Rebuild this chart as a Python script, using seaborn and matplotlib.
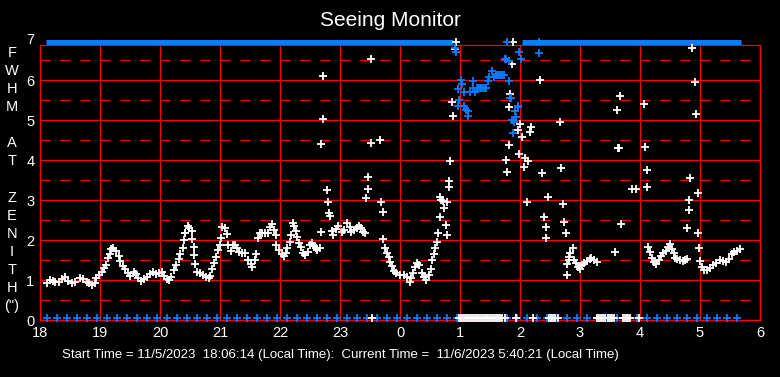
import matplotlib
matplotlib.use('Agg')
import matplotlib.pyplot as plt
from matplotlib import font_manager
import seaborn as sns

# x axis = hours after 18:00 local time
hour_ticks = [0, 1, 2, 3, 4, 5, 6, 7, 8, 9, 10, 11, 12]
hour_labels = ['18', '19', '20', '21', '22', '23', '0', '1', '2', '3', '4', '5', '6']
fwhm_ticks = [0, 1, 2, 3, 4, 5, 6]
fwhm_half = [0.5, 1.5, 2.5, 3.5, 4.5, 5.5, 6.5]

# white seeing samples (hours after 18:00, FWHM arcsec)
white_t = [0.12, 0.17, 0.21, 0.25, 0.31, 0.36, 0.42, 0.47, 0.53, 0.58, 0.66, 0.72, 0.78, 0.82, 0.86,
           0.91, 0.94, 0.99, 1.03, 1.07, 1.10, 1.14, 1.17, 1.19, 1.22, 1.27, 1.31, 1.34, 1.38, 1.42,
           1.46, 1.50, 1.56, 1.60, 1.64, 1.68, 1.73, 1.79, 1.84, 1.89, 1.94, 1.99, 2.03, 2.07, 2.11,
           2.15, 2.19, 2.23, 2.27, 2.31, 2.33, 2.38, 2.40, 2.41, 2.42, 2.46, 2.49, 2.53, 2.54, 2.56,
           2.57, 2.59, 2.62, 2.67, 2.71, 2.76, 2.81, 2.84, 2.87, 2.90, 2.93, 2.97, 3.00, 3.02, 3.04,
           3.08, 3.11, 3.14, 3.18, 3.22, 3.25, 3.28, 3.31, 3.36, 3.42, 3.47, 3.51, 3.54, 3.58, 3.60,
           3.64, 3.67, 3.70, 3.75, 3.80, 3.83, 3.86, 3.90, 3.93, 3.94, 3.99, 4.03, 4.07, 4.10, 4.12,
           4.16, 4.18, 4.21, 4.24, 4.26, 4.28, 4.32, 4.35, 4.39, 4.42, 4.46, 4.50, 4.53, 4.57, 4.60,
           4.62, 4.66, 4.68, 4.69, 4.71, 4.72, 4.78, 4.80, 4.82, 4.84, 4.86, 4.89, 4.93, 4.97, 5.03,
           5.07, 5.11, 5.16, 5.19, 5.23, 5.28, 5.32, 5.35, 5.38, 5.42, 5.43, 5.46, 5.47, 5.51, 5.52,
           5.67, 5.69, 5.71, 5.72, 5.75, 5.78, 5.81, 5.83, 5.87, 5.90, 5.94, 6.00, 6.06, 6.11, 6.16,
           6.19, 6.22, 6.25, 6.29, 6.32, 6.36, 6.40, 6.44, 6.48, 6.52, 6.54, 6.57, 6.59, 6.61, 6.64,
           6.66, 6.67, 6.69, 6.72, 6.74, 6.76, 6.78, 6.79, 6.81, 6.82, 6.84, 6.87, 6.89, 6.92, 6.94,
           7.77, 7.78, 7.81, 7.82, 7.84, 7.86, 7.89, 7.96, 7.99, 8.00, 8.03, 8.07, 8.09, 8.11, 8.13,
           8.16, 8.18, 8.34, 8.36, 8.40, 8.43, 8.44, 8.46, 8.67, 8.69, 8.71, 8.74, 8.76, 8.79,
           8.78, 8.81, 8.82, 8.84, 8.88, 8.90, 8.93, 8.97, 9.00, 9.03, 9.07, 9.11, 9.16, 9.19, 9.23, 9.28,
           9.59, 9.61, 9.63, 9.65, 9.67, 9.69, 9.86, 9.93, 10.06, 10.09, 10.11, 10.12,
           10.14, 10.17, 10.20, 10.23, 10.27, 10.31, 10.35, 10.39, 10.43, 10.47, 10.50, 10.53, 10.56,
           10.58, 10.62, 10.67, 10.71, 10.75, 10.78,
           10.79, 10.81, 10.82, 10.84, 10.86, 10.91, 10.94, 10.96, 10.97, 10.99,
           11.00, 11.03, 11.07, 11.11, 11.16, 11.21, 11.27, 11.33, 11.39, 11.44, 11.49, 11.53, 11.57,
           11.61, 11.66]
white_v = [0.92, 1.00, 0.97, 0.96, 0.94, 1.02, 1.07, 0.98, 0.93, 0.96, 1.06, 1.03, 0.96, 0.92, 0.88,
           0.92, 1.04, 1.12, 1.21, 1.29, 1.38, 1.54, 1.64, 1.77, 1.79, 1.73, 1.61, 1.48, 1.36, 1.28,
           1.17, 1.11, 1.21, 1.14, 1.04, 0.98, 1.03, 1.08, 1.14, 1.21, 1.14, 1.17, 1.19, 1.11, 1.03,
           0.99, 1.08, 1.25, 1.38, 1.53, 1.64, 1.79, 2.00, 2.17, 2.18, 2.36, 2.31, 2.23, 2.02, 1.82,
           1.62, 1.39, 1.21, 1.17, 1.13, 1.08, 1.04, 1.11, 1.27, 1.42, 1.58, 1.75, 1.88, 2.04, 2.33,
           2.29, 2.14, 1.87, 1.73, 1.87, 1.88, 1.79, 1.71, 1.68, 1.67, 1.50, 1.40, 1.32, 1.50, 1.64,
           2.04, 2.18, 2.17, 2.17, 2.17, 2.33, 2.40, 2.25, 2.13, 1.88, 1.75, 1.65, 1.60, 1.67, 1.79,
           1.96, 2.13, 2.42, 2.35, 2.23, 2.08, 1.93, 1.83, 1.67, 1.63, 1.71, 1.88, 1.93, 1.85, 1.79,
           1.75, 1.79, 2.21, 4.39, 5.02, 6.10, 3.25, 2.94, 2.67, 2.61, 2.23, 2.13, 2.27, 2.35, 2.21,
           2.25, 2.42, 2.33, 2.21, 2.25, 2.29, 2.35, 2.29, 2.21, 2.17, 3.04, 3.27, 3.58, 4.42, 6.52,
           4.50, 2.96, 2.69, 2.02, 1.79, 1.68, 1.58, 1.46, 1.35, 1.23, 1.17, 1.13, 1.13, 1.08, 0.96,
           1.04, 1.17, 1.33, 1.42, 1.38, 1.18, 1.08, 1.00, 1.13, 1.27, 1.50, 1.65, 1.79, 1.96, 2.18,
           2.57, 3.08, 3.00, 2.98, 2.79, 2.38, 2.13, 2.96, 3.32, 3.48, 3.98, 5.44, 5.10, 6.78, 6.94,
           4.00, 3.71, 4.37, 5.32, 5.64, 6.39, 6.96, 4.75, 4.14, 4.89, 4.57, 3.83, 4.04, 2.95, 3.98,
           4.69, 4.83, 6.00, 3.67, 2.57, 2.04, 2.33, 3.08, 4.94, 3.79, 2.89, 2.44, 2.17, 1.12,
           1.40, 1.50, 1.58, 1.68, 1.79, 1.50, 1.43, 1.33, 1.27, 1.38, 1.43, 1.48, 1.52, 1.54, 1.50, 1.46,
           1.69, 5.24, 4.29, 4.29, 5.60, 2.39, 3.27, 3.27, 5.39, 4.32, 3.74, 3.32,
           1.83, 1.71, 1.54, 1.46, 1.40, 1.50, 1.60, 1.67, 1.73, 1.83, 1.89, 1.77, 1.67,
           1.54, 1.52, 1.50, 1.48, 1.50, 1.52,
           2.29, 2.74, 2.99, 3.54, 6.79, 5.94, 5.14, 3.17, 2.17, 1.79,
           1.48, 1.33, 1.25, 1.25, 1.30, 1.38, 1.43, 1.50, 1.48, 1.46, 1.52, 1.65, 1.71,
           1.73, 1.77]

# blue samples (second star)
blue_t = [6.92, 6.93, 6.96, 6.97, 6.99, 7.01, 7.04, 7.06, 7.07, 7.10, 7.13, 7.14, 7.17, 7.21, 7.22,
          7.25, 7.28, 7.30, 7.33, 7.35, 7.38, 7.41, 7.43, 7.46, 7.49, 7.53, 7.56, 7.60, 7.62, 7.64,
          7.66, 7.68, 7.70, 7.73, 7.75, 7.76, 7.78, 7.81, 7.82, 7.83, 7.85, 7.86, 7.89, 7.90, 7.92,
          7.93, 7.96, 7.97, 7.99, 8.01, 8.31, 8.32]
blue_v = [6.79, 6.69, 5.36, 5.77, 5.51, 5.99, 5.90, 5.71, 5.36, 5.25, 5.10, 5.23, 5.69, 5.79, 5.98,
          5.71, 5.81, 5.79, 5.79, 5.79, 5.79, 5.79, 5.79, 5.98, 6.07, 6.23, 6.08, 6.13, 6.13, 6.13,
          6.13, 6.13, 6.13, 6.13, 6.52, 6.53, 6.94, 6.48, 5.98, 5.56, 5.54, 5.00, 4.67, 4.94, 5.22,
          5.07, 5.33, 5.36, 6.71, 6.53, 6.95, 6.67]

# samples flagged off the top of the scale (start, end in hours after 18:00)
top_flag_start = [0.10, 8.04]
top_flag_end = [6.88, 11.69]

# white samples sitting at zero
white_zero_t = [5.54, 6.98, 7.01, 7.04, 7.07, 7.10, 7.13, 7.17, 7.20, 7.24, 7.27, 7.30, 7.33, 7.37,
                7.40, 7.44, 7.47, 7.50, 7.53, 7.57, 7.60, 7.63, 7.66, 7.70, 7.75,
                7.93, 8.22, 8.48, 8.52, 8.55, 8.58, 8.63, 9.29, 9.32, 9.35, 9.39, 9.42, 9.46, 9.50,
                9.53, 9.56, 9.72, 9.75, 9.78, 9.81, 9.84, 9.99]

# blue zero markers every 10 minutes (minutes after 18:00)
blue_zero_min = [7, 17, 27, 37, 47, 57, 67, 77, 87, 97, 107, 117, 127, 137, 147, 157, 167, 177,
                 187, 197, 207, 217, 227, 237, 247, 257, 267, 277, 287, 297, 307, 317, 327, 337,
                 347, 357, 367, 377, 387, 397, 407, 417, 427, 437, 447, 457, 467, 477, 487, 497,
                 507, 517, 527, 537, 547, 557, 567, 577, 587, 597, 607, 617, 627, 637, 647, 657,
                 667, 677, 687, 697]

ylabel_letters = ['F', 'W', 'H', 'M', '', 'A', 'T', '', 'Z', 'E', 'N', 'I', 'T', 'H', '(")']
footer = 'Start Time = 11/5/2023  18:06:14 (Local Time):  Current Time =  11/6/2023 5:40:21 (Local Time)'

sns.set_theme(style='dark', rc={'axes.facecolor': 'black', 'figure.facecolor': 'black'})
names = {f.name for f in font_manager.fontManager.ttflist}
main_font = 'Liberation Sans' if 'Liberation Sans' in names else 'DejaVu Sans'
narrow_font = 'Liberation Sans Narrow' if 'Liberation Sans Narrow' in names else main_font
plt.rcParams['font.family'] = [main_font, 'DejaVu Sans']

BLUE = '#0A7CFF'
RED = '#FF0000'

fig = plt.figure(figsize=(7.8, 3.77), dpi=100, facecolor='black')
ax = fig.add_axes([40 / 780, 1 - 320 / 377, 720 / 780, 275 / 377])
ax.set_facecolor('black')

# top "off scale" band
ax.hlines([6.94] * len(top_flag_start), top_flag_start, top_flag_end, color=BLUE, lw=3.6,
          clip_on=False, zorder=3)

mk = dict(marker='+', s=32, linewidth=1.3, clip_on=False, legend=False, zorder=4)
sns.scatterplot(x=[m / 60 for m in blue_zero_min], y=[0.05] * len(blue_zero_min), color=BLUE, ax=ax, **mk)
sns.scatterplot(x=white_zero_t, y=[0.05] * len(white_zero_t), color='white', ax=ax, **mk)
sns.scatterplot(x=white_t, y=white_v, color='white', ax=ax, **mk)
sns.scatterplot(x=blue_t, y=blue_v, color=BLUE, ax=ax, **mk)

ax.set_xlim(0, 12)
ax.set_ylim(0, 6.875)
ax.set_xticks(hour_ticks)
ax.set_xticklabels(hour_labels)
ax.set_yticks(fwhm_ticks)
ax.set_yticks(fwhm_half, minor=True)
ax.set_axisbelow(True)
ax.grid(which='major', color=RED, lw=0.9, ls='-')
ax.grid(which='minor', axis='y', color=RED, lw=0.9, ls=(0, (8, 8)))
ax.grid(which='minor', axis='x', visible=False)
ax.tick_params(which='both', length=0, colors='white', labelsize=10.5, pad=4)
ax.set_xlabel('')
ax.set_ylabel('')
for sp in ax.spines.values():
    sp.set_visible(True)
    sp.set_color(RED)
    sp.set_linewidth(0.9)

# tick label "7" sits just above the frame
ax.annotate('7', xy=(0, 7), xycoords=('axes fraction', 'data'), xytext=(-4, 0),
            textcoords='offset points', ha='right', va='center', color='white', fontsize=10.5,
            annotation_clip=False)

fig.text(390 / 780, 1 - 20 / 377, 'Seeing Monitor', ha='center', va='center', color='white', fontsize=15)

for i, ch in enumerate(ylabel_letters):
    fig.text(12 / 780, 1 - (53 + 18.07 * i) / 377, ch, ha='center', va='center', color='white', fontsize=10.5)

fig.text(62 / 780, 1 - 355 / 377, footer, ha='left', va='center', color='white', fontsize=9.5,
         family=[narrow_font, 'DejaVu Sans'])

fig.savefig('out.png', dpi=100, facecolor='black')
